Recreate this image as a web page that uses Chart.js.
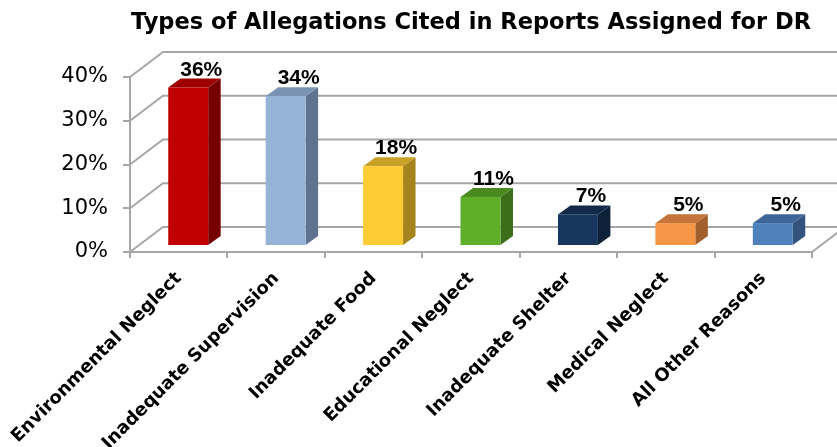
<!DOCTYPE html>
<html>
<head>
<meta charset="utf-8">
<script src="https://cdn.jsdelivr.net/npm/chart.js@4.4.0/dist/chart.umd.min.js"></script>
<style>
  html, body { margin: 0; padding: 0; background: #fff; }
  #wrap { width: 837px; height: 447px; }
</style>
</head>
<body>
<div id="wrap"><canvas id="chart" width="837" height="447"></canvas></div>
<script>
const categories = ['Environmental Neglect', 'Inadequate Supervision', 'Inadequate Food', 'Educational Neglect', 'Inadequate Shelter', 'Medical Neglect', 'All Other Reasons'];
const percents = [36, 34, 18, 11, 7, 5, 5];
const yTicks = [0, 10, 20, 30, 40];

const frontColors = ['#C00000', '#95B3D7', '#FFCC33', '#5FAF2A', '#17375E', '#F79646', '#4F81BD'];
const topColors = ['#9E0000', '#7A93B2', '#C9A127', '#4B8A21', '#12294A', '#C4733A', '#3E6597'];
const sideColors = ['#740000', '#5F7290', '#A5841F', '#3C6E19', '#0E213B', '#A35F2B', '#33537C'];

const GRID = '#A6A6A6';
const DEPTH = { x: 33, y: -25 };     // floor / wall depth
const SHIFT = { x: 9.5, y: -7 };     // bar front face, pushed back
const BAR_D = { x: 12.5, y: -9 };    // bar depth

const box3d = {
    id: 'box3d',
    beforeDatasetsDraw(chart) {
        const { ctx, chartArea, scales: { y } } = chart;
        const l = chartArea.left, r = chartArea.right;
        ctx.save();
        ctx.strokeStyle = GRID;
        ctx.lineWidth = 2;
        yTicks.forEach(v => {
            const py = y.getPixelForValue(v);
            ctx.beginPath();
            ctx.moveTo(l, py);
            ctx.lineTo(l + DEPTH.x, py + DEPTH.y);
            ctx.lineTo(r + DEPTH.x + 10, py + DEPTH.y);
            ctx.stroke();
        });
        // right edge of the floor
        const p0 = y.getPixelForValue(0);
        ctx.beginPath();
        ctx.moveTo(r, p0);
        ctx.lineTo(r + DEPTH.x, p0 + DEPTH.y);
        ctx.stroke();
        ctx.restore();
    },
    afterDatasetsDraw(chart) {
        const { ctx, scales: { y } } = chart;
        const meta = chart.getDatasetMeta(0);
        const base = y.getPixelForValue(0) + SHIFT.y;
        ctx.save();
        meta.data.forEach((bar, i) => {
            const x0 = bar.x - bar.width / 2 + SHIFT.x;
            const x1 = x0 + bar.width;
            const top = bar.y + SHIFT.y;

            // side
            ctx.fillStyle = sideColors[i];
            ctx.beginPath();
            ctx.moveTo(x1, top);
            ctx.lineTo(x1 + BAR_D.x, top + BAR_D.y);
            ctx.lineTo(x1 + BAR_D.x, base + BAR_D.y);
            ctx.lineTo(x1, base);
            ctx.closePath();
            ctx.fill();

            // top
            ctx.fillStyle = topColors[i];
            ctx.beginPath();
            ctx.moveTo(x0, top);
            ctx.lineTo(x1, top);
            ctx.lineTo(x1 + BAR_D.x, top + BAR_D.y);
            ctx.lineTo(x0 + BAR_D.x, top + BAR_D.y);
            ctx.closePath();
            ctx.fill();

            // front
            ctx.fillStyle = frontColors[i];
            ctx.fillRect(x0, top, bar.width, base - top);

            // value label
            ctx.fillStyle = '#000';
            ctx.font = 'bold 21px "Liberation Sans", Arial, sans-serif';
            ctx.textAlign = 'center';
            ctx.textBaseline = 'alphabetic';
            ctx.fillText(percents[i] + '%', x0 + bar.width / 2 + 13, top + BAR_D.y - 3);
        });
        ctx.restore();
    }
};

new Chart(document.getElementById('chart'), {
    type: 'bar',
    data: {
        labels: categories,
        datasets: [{
            data: percents,
            backgroundColor: 'rgba(0,0,0,0)',
            barPercentage: 0.41,
            categoryPercentage: 1
        }]
    },
    options: {
        responsive: false,
        animation: false,
        layout: { padding: { left: 0, right: 25, top: 0, bottom: 0 } },
        plugins: {
            legend: { display: false },
            tooltip: { enabled: false },
            title: {
                display: true,
                text: 'Types of Allegations Cited in Reports Assigned for DR',
                fullSize: false,
                color: '#000',
                font: { family: '"DejaVu Sans", sans-serif', size: 22.5, weight: 'bold', lineHeight: 1.2 },
                padding: { top: 10, bottom: 40 }
            }
        },
        scales: {
            x: {
                grid: { drawOnChartArea: false, drawTicks: true, tickLength: 6, color: GRID, lineWidth: 2, offset: true },
                border: { color: GRID, width: 2 },
                ticks: {
                    autoSkip: false,
                    minRotation: 45,
                    maxRotation: 45,
                    padding: 10,
                    color: '#000',
                    font: { family: '"DejaVu Sans", sans-serif', size: 18, weight: 'bold' }
                },
                afterFit(scale) {
                    scale.height = 195;
                    scale.paddingLeft = 0;
                    scale.paddingRight = 0;
                }
            },
            y: {
                min: 0,
                max: 40,
                ticks: {
                    stepSize: 10,
                    padding: 15,
                    color: '#000',
                    font: { family: '"DejaVu Sans", sans-serif', size: 21 },
                    callback: v => v + '%'
                },
                grid: { drawOnChartArea: false, tickLength: 7, color: GRID, lineWidth: 2 },
                border: { color: GRID, width: 2 },
                afterFit(scale) { scale.width = 130; }
            }
        }
    },
    plugins: [box3d]
});
</script>
</body>
</html>
